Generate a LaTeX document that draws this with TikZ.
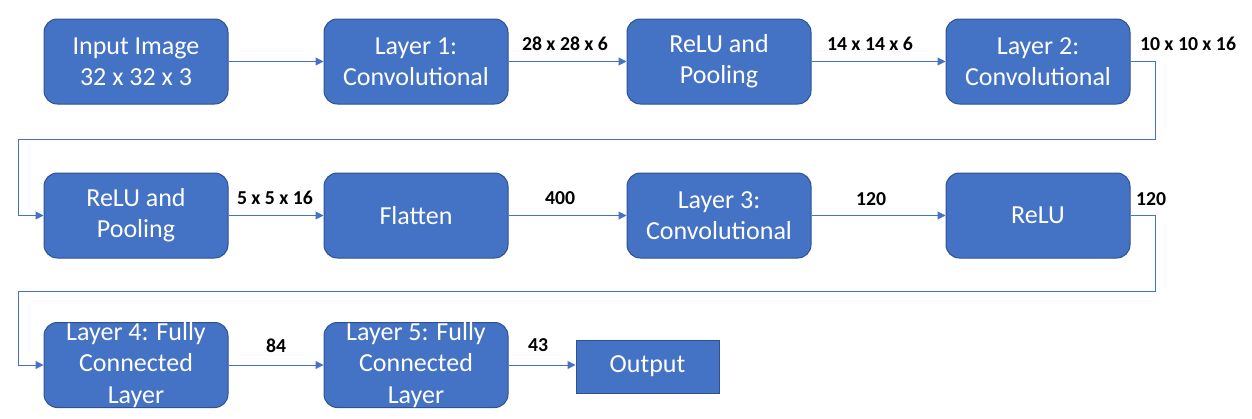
\documentclass[tikz,border=0pt]{standalone}
\usepackage{fontspec}
\setmainfont{Carlito}
\usetikzlibrary{arrows.meta}
\definecolor{boxfill}{HTML}{4472C4}
\definecolor{boxdraw}{HTML}{2F528F}
\definecolor{linec}{HTML}{4472C4}
\begin{document}
\begin{tikzpicture}[x=0.75pt,y=-0.75pt,
  blk/.style={draw=boxdraw,line width=0.75pt,fill=boxfill,rounded corners=10pt,
    minimum width=138pt,minimum height=63.75pt,inner sep=0pt,text=white,
    align=center,font=\fontsize{19.5}{23.3}\selectfont},
  outbox/.style={draw=boxdraw,line width=0.75pt,fill=boxfill,
    minimum width=107.25pt,minimum height=39.75pt,inner sep=0pt,text=white,
    align=center,font=\fontsize{19.5}{23.3}\selectfont},
  lbl/.style={font=\fontsize{14.8}{17}\selectfont\bfseries,text=black,inner sep=0pt},
  conn/.style={draw=linec,line width=0.75pt,-{Triangle[length=6pt,width=6pt]}}]
\useasboundingbox (0,0) rectangle (1252,418);
% row 1
\node[blk] (b1) at (136,61.5) {Input Image\\32 x 32 x 3};
\node[blk] (b2) at (416,61.5) {Layer 1:\\Convolutional};
\node[blk] (b3) at (719,61.5) {ReLU and\\Pooling};
\node[blk] (b4) at (1038,61.5) {Layer 2:\\Convolutional};
% row 2
\node[blk] (b5) at (136,215.5) {ReLU and\\Pooling};
\node[blk] (b6) at (416,215.5) {Flatten};
\node[blk] (b7) at (719,215.5) {Layer 3:\\Convolutional};
\node[blk] (b8) at (1038,215.5) {ReLU};
% row 3
\node[blk] (b9) at (136,365) {Layer 4: Fully\\Connected\\Layer};
\node[blk] (b10) at (416,365) {Layer 5: Fully\\Connected\\Layer};
\node[outbox] (out) at (647.5,366.5) {Output};
% labels
\node[lbl] (l1) at (565,44) {28 x 28 x 6};
\node[lbl] (l2) at (870,44) {14 x 14 x 6};
\node[lbl] (l3) at (1188,44) {10 x 10 x 16};
\node[lbl] (l4) at (275,198) {5 x 5 x 16};
\node[lbl] (l5) at (560,198) {400};
\node[lbl] (l6) at (871,199) {120};
\node[lbl] (l7) at (1151,199) {120};
\node[lbl] (l8) at (276,346) {84};
\node[lbl] (l9) at (538,345) {43};
% turn coordinates
\coordinate (t1a) at (1155,61.5);
\coordinate (t1b) at (1155,139);
\coordinate (t1c) at (18,139);
\coordinate (t1d) at (18,215.5);
\coordinate (t2a) at (1155,215.5);
\coordinate (t2b) at (1155,291);
\coordinate (t2c) at (18,291);
\coordinate (t2d) at (18,365);
% connectors
\draw[conn] (b1) -- (b2);
\draw[conn] (b2) -- (b3);
\draw[conn] (b3) -- (b4);
\draw[conn] (b4.east) -- (t1a) -- (t1b) -- (t1c) -- (t1d) -- (b5.west);
\draw[conn] (b5) -- (b6);
\draw[conn] (b6) -- (b7);
\draw[conn] (b7) -- (b8);
\draw[conn] (b8.east) -- (t2a) -- (t2b) -- (t2c) -- (t2d) -- (b9.west);
\draw[conn] (b9) -- (b10);
\draw[conn] (b10.east) -- (b10.east -| out.west);
\end{tikzpicture}
\end{document}
